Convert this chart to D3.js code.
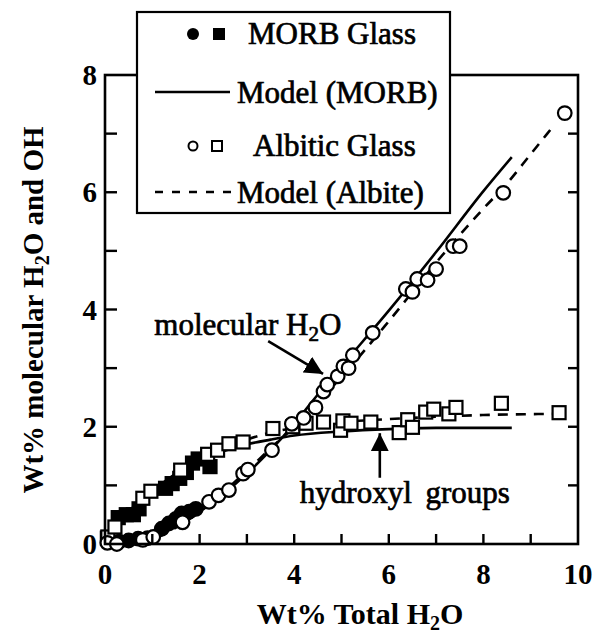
<!DOCTYPE html>
<html>
<head>
<meta charset="utf-8">
<script src="https://cdn.jsdelivr.net/npm/d3@7"></script>
</head>
<body style="margin:0">
<svg id="fig" width="607" height="634"></svg>
<script>
// Axis ticks
const xTickValues = [0, 2, 4, 6, 8, 10];
const yTickValues = [0, 2, 4, 6, 8];
const xMinorTicks = [1, 3, 5, 7, 9];
const yMinorTicks = [1, 3, 5, 7];

// MORB glass: molecular H2O (filled circles) and hydroxyl (filled squares), [total H2O, wt%]
const morbMolecular = [[0.12,0.05],[0.3,0.04],[0.5,0.06],[0.7,0.09],[0.9,0.1],[1.2,0.26],[1.35,0.35],[1.5,0.43],[1.62,0.52],[1.78,0.55],[1.92,0.6]];
const morbHydroxyl = [[0.05,0.1],[0.28,0.45],[0.45,0.5],[0.6,0.5],[0.72,0.6],[1.28,0.95],[1.42,1.03],[1.58,1.12],[1.72,1.22],[1.85,1.38],[1.97,1.45],[2.22,1.32]];

// Albitic glass: molecular H2O (open circles) and hydroxyl (open squares)
const albiteMolecular = [[0.05,0.02],[0.25,0.0],[0.8,0.07],[1.02,0.12],[1.64,0.37],[2.2,0.72],[2.4,0.83],[2.62,0.92],[2.92,1.2],[3.02,1.27],[3.53,1.6],[3.95,2.05],[4.2,2.15],[4.45,2.33],[4.62,2.6],[4.7,2.72],[4.92,2.86],[5.04,3.03],[5.15,3.0],[5.24,3.22],[5.66,3.6],[6.36,4.35],[6.5,4.3],[6.6,4.52],[6.82,4.5],[7.0,4.69],[7.36,5.08],[7.5,5.08],[8.42,5.99],[9.72,7.35]];
const albiteHydroxyl = [[0.06,0.12],[0.21,0.29],[0.8,0.78],[0.97,0.9],[1.6,1.26],[2.17,1.53],[2.38,1.6],[2.62,1.71],[2.92,1.74],[3.55,1.97],[3.97,2.0],[4.25,2.06],[4.62,2.08],[4.98,1.94],[5.03,2.1],[5.2,2.06],[5.62,2.08],[6.22,1.9],[6.4,2.12],[6.5,1.99],[6.78,2.25],[6.95,2.3],[7.27,2.22],[7.42,2.33],[8.38,2.4],[9.6,2.24]];

// Speciation model curves
const modelMorbMolecular = [[0,0],[0.5,0.03],[1,0.12],[1.5,0.3],[2,0.55],[2.5,0.85],[3,1.2],[3.5,1.6],[4,2.05],[4.5,2.55],[5,3.03],[6,3.98],[7,4.98],[8,6.02],[8.6,6.6]];
const modelMorbHydroxyl = [[0,0],[0.25,0.3],[0.5,0.55],[1,0.9],[1.5,1.2],[2,1.42],[2.5,1.58],[3,1.7],[3.5,1.78],[4,1.85],[5,1.92],[6,1.96],[7,1.98],[8.6,1.98]];
const modelAlbiteMolecular = [[0,0],[0.5,0.01],[1,0.08],[1.5,0.28],[2,0.55],[2.5,0.88],[3,1.25],[3.5,1.63],[4,2.0],[4.5,2.42],[5,2.85],[6,3.8],[7,4.8],[8,5.72],[8.5,6.15],[9,6.65],[9.5,7.15]];
const modelAlbiteHydroxyl = [[0,0],[0.5,0.5],[1,0.88],[1.5,1.18],[2,1.42],[2.5,1.62],[3,1.78],[3.5,1.9],[4,1.98],[5,2.08],[6,2.13],[7,2.17],[8,2.2],[9.6,2.22]];

const FONT = '"Liberation Serif", "Times New Roman", Tinos, serif';
const svg = d3.select("#fig");
const x = d3.scaleLinear().domain([0, 10]).range([105, 578]);
const y = d3.scaleLinear().domain([0, 8]).range([544, 75]);

// serif text helper
function label(sel, size, weight) {
  return sel.style("font-family", FONT, "important")
    .style("font-size", size + "px")
    .style("font-weight", weight || "normal");
}

// Model lines
const line = d3.line().x(d => x(d[0])).y(d => y(d[1])).curve(d3.curveMonotoneX);
const lines = svg.append("g").attr("fill", "none").attr("stroke", "#000").attr("stroke-width", 2.6);
lines.append("path").attr("d", line(modelMorbMolecular));
lines.append("path").attr("d", line(modelMorbHydroxyl));
lines.append("path").attr("d", line(modelAlbiteMolecular)).attr("stroke-dasharray", "10 8");
lines.append("path").attr("d", line(modelAlbiteHydroxyl)).attr("stroke-dasharray", "10 8");

// Data markers: filled MORB points below, open albite points on top
const marks = svg.append("g").attr("stroke", "#000").attr("stroke-width", 2.2);
const sq = 13;
marks.selectAll(".oh-m").data(morbHydroxyl).join("rect")
  .attr("x", d => x(d[0]) - sq / 2).attr("y", d => y(d[1]) - sq / 2)
  .attr("width", sq).attr("height", sq).attr("fill", "#000");
marks.selectAll(".mol-m").data(morbMolecular).join("circle")
  .attr("cx", d => x(d[0])).attr("cy", d => y(d[1])).attr("r", 6.8).attr("fill", "#000");
marks.selectAll(".oh-a").data(albiteHydroxyl).join("rect")
  .attr("x", d => x(d[0]) - sq / 2).attr("y", d => y(d[1]) - sq / 2)
  .attr("width", sq).attr("height", sq).attr("fill", "#fff");
marks.selectAll(".mol-a").data(albiteMolecular).join("circle")
  .attr("cx", d => x(d[0])).attr("cy", d => y(d[1])).attr("r", 6.8).attr("fill", "#fff");

// Frame and inward ticks
svg.append("rect").attr("x", x(0)).attr("y", y(8)).attr("width", x(10) - x(0)).attr("height", y(0) - y(8))
  .attr("fill", "none").attr("stroke", "#000").attr("stroke-width", 2.6);
const tk = svg.append("g").attr("stroke", "#000").attr("stroke-width", 2.4);
const allX = xTickValues.concat(xMinorTicks).filter(v => v > 0 && v < 10);
const allY = yTickValues.concat(yMinorTicks).filter(v => v > 0 && v < 8);
tk.selectAll(".bx").data(allX).join("line")
  .attr("x1", d => x(d)).attr("x2", d => x(d)).attr("y1", y(0)).attr("y2", y(0) - 10);
tk.selectAll(".ly").data(allY).join("line")
  .attr("x1", x(0)).attr("x2", x(0) + 12).attr("y1", d => y(d)).attr("y2", d => y(d));
tk.selectAll(".ry").data(allY).join("line")
  .attr("x1", x(10)).attr("x2", x(10) - 10).attr("y1", d => y(d)).attr("y2", d => y(d));

// Tick labels
label(svg.append("g").selectAll("text").data(xTickValues).join("text")
  .attr("x", d => x(d)).attr("y", y(0) + 40).attr("text-anchor", "middle"), 29, "bold").text(d => d);
label(svg.append("g").selectAll("text").data(yTickValues).join("text")
  .attr("x", x(0) - 8).attr("y", d => y(d) + 10).attr("text-anchor", "end"), 29, "bold").text(d => d);

// Axis titles
const xt = label(svg.append("text").attr("x", 360).attr("y", 624).attr("text-anchor", "middle"), 30, "bold");
xt.append("tspan").text("Wt% Total H");
xt.append("tspan").style("font-size", "20px").attr("dy", 6).text("2");
xt.append("tspan").attr("dy", -6).text("O");

const yt = label(svg.append("text").attr("transform", "translate(43,310) rotate(-90)").attr("text-anchor", "middle"), 29, "bold");
yt.append("tspan").text("Wt% molecular H");
yt.append("tspan").style("font-size", "20px").attr("dy", 6).text("2");
yt.append("tspan").attr("dy", -6).text("O and OH");

// Annotations with arrows
svg.append("defs").append("marker").attr("id", "head").attr("viewBox", "0 0 10 10")
  .attr("refX", 10).attr("refY", 5).attr("markerWidth", 7).attr("markerHeight", 7)
  .attr("markerUnits", "strokeWidth").attr("orient", "auto")
  .append("path").attr("d", "M0,0 L10,5 L0,10 Z").attr("fill", "#000");

const molLabel = label(svg.append("text").attr("x", x(3.02)).attr("y", y(3.74) + 10).attr("text-anchor", "middle"), 31)
  .attr("stroke", "#000").attr("stroke-width", 0.7);
molLabel.append("tspan").text("molecular H");
molLabel.append("tspan").style("font-size", "21px").attr("dy", 6).text("2");
molLabel.append("tspan").attr("dy", -6).text("O");
svg.append("line").attr("x1", x(3.45)).attr("y1", y(3.46)).attr("x2", x(4.61)).attr("y2", y(2.9))
  .attr("stroke", "#000").attr("stroke-width", 2.6).attr("marker-end", "url(#head)");

label(svg.append("text").attr("x", x(6.34)).attr("y", y(0.87) + 10).attr("text-anchor", "middle"), 31)
  .attr("stroke", "#000").attr("stroke-width", 0.7)
  .style("word-spacing", "6px").text("hydroxyl groups");
svg.append("line").attr("x1", x(5.81)).attr("y1", y(1.13)).attr("x2", x(5.81)).attr("y2", y(1.89))
  .attr("stroke", "#000").attr("stroke-width", 2.6).attr("marker-end", "url(#head)");

// Legend
const lg = svg.append("g");
lg.append("rect").attr("x", 137).attr("y", 12).attr("width", 313).attr("height", 201)
  .attr("fill", "#fff").attr("stroke", "#000").attr("stroke-width", 2.2);
const legendRows = [
  { label: "MORB Glass", x: 248, y: 44 },
  { label: "Model (MORB)", x: 237, y: 103 },
  { label: "Albitic Glass", x: 253, y: 156 },
  { label: "Model (Albite)", x: 237, y: 203 }
];
label(lg.selectAll(".lt").data(legendRows).join("text")
  .attr("x", d => d.x).attr("y", d => d.y), 31)
  .attr("stroke", "#000").attr("stroke-width", 0.7)
  .text(d => d.label);
lg.append("circle").attr("cx", 193).attr("cy", 34).attr("r", 6).attr("fill", "#000");
lg.append("rect").attr("x", 213).attr("y", 28).attr("width", 12).attr("height", 12).attr("fill", "#000");
lg.append("line").attr("x1", 155).attr("x2", 230).attr("y1", 92).attr("y2", 92).attr("stroke", "#000").attr("stroke-width", 2.6);
lg.append("circle").attr("cx", 193).attr("cy", 146).attr("r", 4.5).attr("fill", "#fff").attr("stroke", "#000").attr("stroke-width", 2);
lg.append("rect").attr("x", 212).attr("y", 141).attr("width", 10).attr("height", 10).attr("fill", "#fff").attr("stroke", "#000").attr("stroke-width", 2);
lg.append("line").attr("x1", 155).attr("x2", 231).attr("y1", 192).attr("y2", 192).attr("stroke", "#000")
  .attr("stroke-width", 2.4).attr("stroke-dasharray", "8 9");
</script>
</body>
</html>
